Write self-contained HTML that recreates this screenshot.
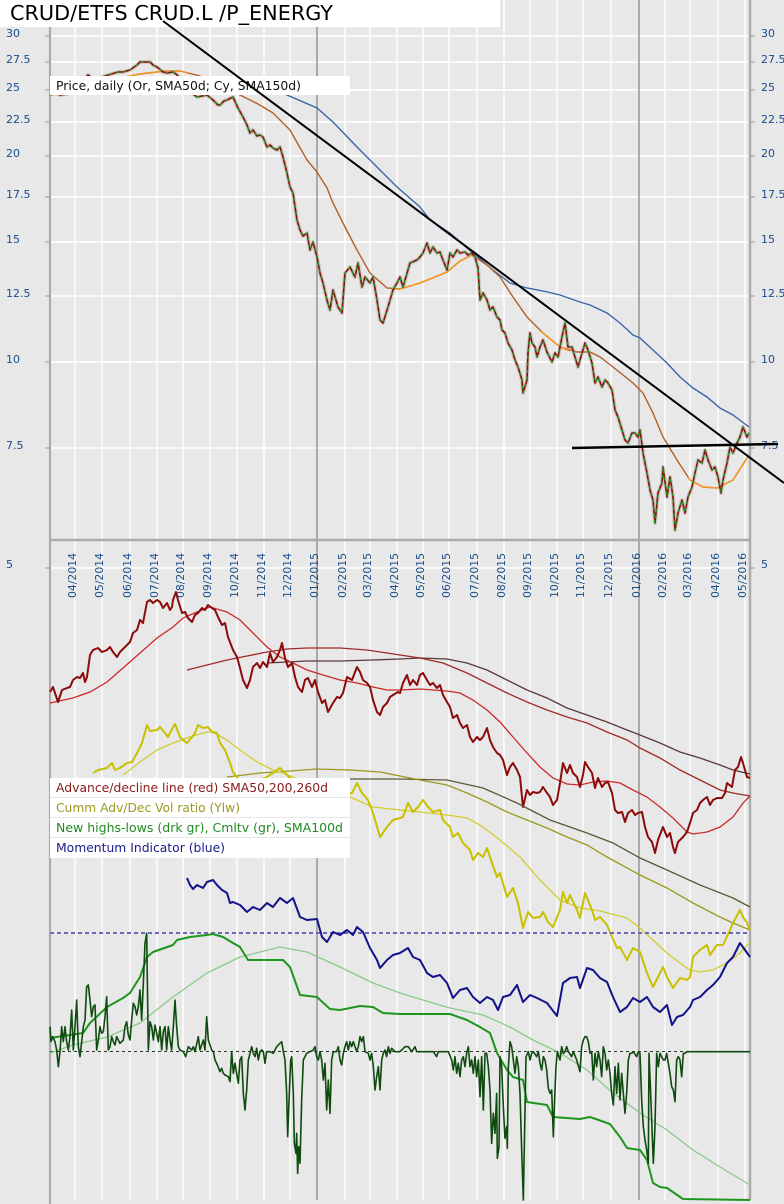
<!DOCTYPE html>
<html><head><meta charset="utf-8"><style>
html,body{margin:0;padding:0;background:#e8e8e8;}
svg{display:block;}
text{font-family:"DejaVu Sans","Liberation Sans",sans-serif;}
</style></head><body>
<svg width="784" height="1204" viewBox="0 0 784 1204" xmlns="http://www.w3.org/2000/svg">
<rect x="0" y="0" width="784" height="1204" fill="#e8e8e8"/>
<!-- horizontal grid -->
<g stroke="#ffffff" stroke-width="1.4">
<line x1="50" y1="36" x2="750" y2="36"/><line x1="50" y1="62" x2="750" y2="62"/><line x1="50" y1="90" x2="750" y2="90"/><line x1="50" y1="122" x2="750" y2="122"/><line x1="50" y1="156" x2="750" y2="156"/><line x1="50" y1="197" x2="750" y2="197"/><line x1="50" y1="242" x2="750" y2="242"/><line x1="50" y1="296" x2="750" y2="296"/><line x1="50" y1="362" x2="750" y2="362"/><line x1="50" y1="448" x2="750" y2="448"/><line x1="50" y1="568" x2="750" y2="568"/>
</g>
<!-- vertical month grid -->
<g stroke="#ffffff" stroke-width="1.4">
<line x1="75" y1="0" x2="75" y2="1200"/><line x1="102" y1="0" x2="102" y2="1200"/><line x1="130" y1="0" x2="130" y2="1200"/><line x1="157" y1="0" x2="157" y2="1200"/><line x1="183" y1="0" x2="183" y2="1200"/><line x1="210" y1="0" x2="210" y2="1200"/><line x1="237" y1="0" x2="237" y2="1200"/><line x1="264" y1="0" x2="264" y2="1200"/><line x1="290" y1="0" x2="290" y2="1200"/><line x1="345" y1="0" x2="345" y2="1200"/><line x1="370" y1="0" x2="370" y2="1200"/><line x1="397" y1="0" x2="397" y2="1200"/><line x1="423" y1="0" x2="423" y2="1200"/><line x1="449" y1="0" x2="449" y2="1200"/><line x1="477" y1="0" x2="477" y2="1200"/><line x1="504" y1="0" x2="504" y2="1200"/><line x1="530" y1="0" x2="530" y2="1200"/><line x1="557" y1="0" x2="557" y2="1200"/><line x1="583" y1="0" x2="583" y2="1200"/><line x1="611" y1="0" x2="611" y2="1200"/><line x1="665" y1="0" x2="665" y2="1200"/><line x1="690" y1="0" x2="690" y2="1200"/><line x1="718" y1="0" x2="718" y2="1200"/><line x1="745" y1="0" x2="745" y2="1200"/>
</g>
<g stroke="#9a9a9a" stroke-width="1.6">
<line x1="317" y1="0" x2="317" y2="1200"/><line x1="639" y1="0" x2="639" y2="1200"/>
</g>
<!-- axes -->
<line x1="50" y1="540" x2="750" y2="540" stroke="#ababab" stroke-width="2.5"/>
<line x1="50" y1="27" x2="50" y2="1204" stroke="#ababab" stroke-width="2.2"/>
<line x1="750" y1="0" x2="750" y2="1200" stroke="#ababab" stroke-width="2.5"/>
<g stroke="#999" stroke-width="1">
<line x1="45" y1="36" x2="50" y2="36"/><line x1="45" y1="62" x2="50" y2="62"/><line x1="45" y1="90" x2="50" y2="90"/><line x1="45" y1="122" x2="50" y2="122"/><line x1="45" y1="156" x2="50" y2="156"/><line x1="45" y1="197" x2="50" y2="197"/><line x1="45" y1="242" x2="50" y2="242"/><line x1="45" y1="296" x2="50" y2="296"/><line x1="45" y1="362" x2="50" y2="362"/><line x1="45" y1="448" x2="50" y2="448"/><line x1="45" y1="568" x2="50" y2="568"/>
<line x1="750" y1="36" x2="755" y2="36"/><line x1="750" y1="62" x2="755" y2="62"/><line x1="750" y1="90" x2="755" y2="90"/><line x1="750" y1="122" x2="755" y2="122"/><line x1="750" y1="156" x2="755" y2="156"/><line x1="750" y1="197" x2="755" y2="197"/><line x1="750" y1="242" x2="755" y2="242"/><line x1="750" y1="296" x2="755" y2="296"/><line x1="750" y1="362" x2="755" y2="362"/><line x1="750" y1="448" x2="755" y2="448"/><line x1="750" y1="568" x2="755" y2="568"/>
</g>
<!-- y labels -->
<g fill="#1a4c8c" font-size="11">
<text x="6" y="37">30</text><text x="6" y="63">27.5</text><text x="6" y="91">25</text><text x="6" y="123">22.5</text><text x="6" y="157">20</text><text x="6" y="198">17.5</text><text x="6" y="243">15</text><text x="6" y="297">12.5</text><text x="6" y="363">10</text><text x="6" y="449">7.5</text><text x="6" y="568">5</text>
<text x="761" y="37">30</text><text x="761" y="63">27.5</text><text x="761" y="91">25</text><text x="761" y="123">22.5</text><text x="761" y="157">20</text><text x="761" y="198">17.5</text><text x="761" y="243">15</text><text x="761" y="297">12.5</text><text x="761" y="363">10</text><text x="761" y="449">7.5</text><text x="761" y="568">5</text>
</g>
<!-- x labels -->
<g fill="#1a4c8c" font-size="11">
<text transform="translate(76,598) rotate(-90)" textLength="45" lengthAdjust="spacingAndGlyphs">04/2014</text>
<text transform="translate(103,598) rotate(-90)" textLength="45" lengthAdjust="spacingAndGlyphs">05/2014</text>
<text transform="translate(131,598) rotate(-90)" textLength="45" lengthAdjust="spacingAndGlyphs">06/2014</text>
<text transform="translate(158,598) rotate(-90)" textLength="45" lengthAdjust="spacingAndGlyphs">07/2014</text>
<text transform="translate(184,598) rotate(-90)" textLength="45" lengthAdjust="spacingAndGlyphs">08/2014</text>
<text transform="translate(211,598) rotate(-90)" textLength="45" lengthAdjust="spacingAndGlyphs">09/2014</text>
<text transform="translate(238,598) rotate(-90)" textLength="45" lengthAdjust="spacingAndGlyphs">10/2014</text>
<text transform="translate(265,598) rotate(-90)" textLength="45" lengthAdjust="spacingAndGlyphs">11/2014</text>
<text transform="translate(291,598) rotate(-90)" textLength="45" lengthAdjust="spacingAndGlyphs">12/2014</text>
<text transform="translate(318,598) rotate(-90)" textLength="45" lengthAdjust="spacingAndGlyphs">01/2015</text>
<text transform="translate(346,598) rotate(-90)" textLength="45" lengthAdjust="spacingAndGlyphs">02/2015</text>
<text transform="translate(371,598) rotate(-90)" textLength="45" lengthAdjust="spacingAndGlyphs">03/2015</text>
<text transform="translate(398,598) rotate(-90)" textLength="45" lengthAdjust="spacingAndGlyphs">04/2015</text>
<text transform="translate(424,598) rotate(-90)" textLength="45" lengthAdjust="spacingAndGlyphs">05/2015</text>
<text transform="translate(450,598) rotate(-90)" textLength="45" lengthAdjust="spacingAndGlyphs">06/2015</text>
<text transform="translate(478,598) rotate(-90)" textLength="45" lengthAdjust="spacingAndGlyphs">07/2015</text>
<text transform="translate(505,598) rotate(-90)" textLength="45" lengthAdjust="spacingAndGlyphs">08/2015</text>
<text transform="translate(531,598) rotate(-90)" textLength="45" lengthAdjust="spacingAndGlyphs">09/2015</text>
<text transform="translate(558,598) rotate(-90)" textLength="45" lengthAdjust="spacingAndGlyphs">10/2015</text>
<text transform="translate(584,598) rotate(-90)" textLength="45" lengthAdjust="spacingAndGlyphs">11/2015</text>
<text transform="translate(612,598) rotate(-90)" textLength="45" lengthAdjust="spacingAndGlyphs">12/2015</text>
<text transform="translate(640,598) rotate(-90)" textLength="45" lengthAdjust="spacingAndGlyphs">01/2016</text>
<text transform="translate(666,598) rotate(-90)" textLength="45" lengthAdjust="spacingAndGlyphs">02/2016</text>
<text transform="translate(691,598) rotate(-90)" textLength="45" lengthAdjust="spacingAndGlyphs">03/2016</text>
<text transform="translate(719,598) rotate(-90)" textLength="45" lengthAdjust="spacingAndGlyphs">04/2016</text>
<text transform="translate(746,598) rotate(-90)" textLength="45" lengthAdjust="spacingAndGlyphs">05/2016</text>
</g>

<!-- ===== PRICE PANEL ===== -->
<!-- SMA150 -->
<polyline fill="none" stroke="#3a66a8" stroke-width="1.4" points="240,82 260,87 287,95 317,108 333,122 357,147 373,163 397,187 420,207 430,220 450,233 467,248 493,270 510,283 527,288 543,291 560,295 580,302 590,305 607,313 620,323 633,335 640,338 653,350 667,363 680,377 693,388 707,397 720,408 733,415 749,427"/>
<!-- SMA50 brown full -->
<polyline fill="none" stroke="#b0602a" stroke-width="1.4" points="50,95 80,90 110,80 140,74 165,71 180,71 200,76 220,84 240,95 258,104 273,113 290,130 307,160 317,172 327,188 333,203 345,227 357,250 370,273 387,288 400,289 420,283 435,277 447,272 460,261 472,255 487,265 500,277 513,297 527,317 543,333 560,347 577,352 590,352 600,357 613,367 633,383 643,393 653,413 663,437 677,460 690,480 703,487 717,488 733,480 749,455"/>
<!-- SMA50 orange segments -->
<g fill="none" stroke="#f4961e" stroke-width="1.5">
<polyline points="50,95 80,90 110,80 140,74 165,71 180,71 188,73"/>
<polyline points="392,289 400,289 420,283 435,277 447,272 460,261 472,255"/>
<polyline points="540,331 543,333 560,347 570,351"/>
<polyline points="688,477 690,480 703,487 717,488 733,480 749,455"/>
</g>
<!-- price -->
<g fill="none" stroke-linejoin="round">
<polyline stroke="#b89a9a" stroke-opacity="0.45" stroke-width="4" points="50,95 55,93 60,95 67,94 75,88 88,75 95,80 105,76 118,72 123,72 130,70 137,65 140,62 147,62 150,62 153,65 157,67 163,72 167,73 173,72 176,74 182,80 188,88 193,94 197,97 202,96 207,95 213,100 218,105 220,105 224,101 227,100 233,97 238,108 243,117 247,125 250,133 253,130 257,136 260,135 263,137 267,147 270,145 273,148 277,150 280,147 283,157 287,173 290,187 293,193 297,220 300,230 303,236 307,233 310,250 313,242 317,257 320,273 323,283 327,300 330,310 333,290 338,307 342,313 345,273 350,267 355,277 358,263 362,287 365,277 370,283 373,277 377,300 380,320 383,323 388,307 393,290 397,283 400,277 403,287 410,263 417,260 420,257 423,253 427,243 430,253 433,247 437,253 440,252 443,260 447,270 450,253 453,257 457,250 460,253 465,252 468,255 472,253 475,257 478,268 480,300 483,293 487,300 490,310 493,307 497,317 500,320 502,330 505,333 508,343 512,350 515,360 518,367 522,380 523,393 527,380 528,353 530,333 532,343 535,347 537,357 540,347 543,340 547,352 552,362 555,353 558,357 562,337 565,323 568,347 572,347 575,357 578,367 582,353 585,343 588,350 592,363 595,383 598,377 602,387 605,380 608,383 612,390 615,410 618,417 622,430 625,440 628,443 632,433 635,433 638,437 640,430 643,453 647,473 650,490 653,500 655,523 658,493 662,483 663,467 667,497 670,477 673,497 675,530 678,513 682,500 685,513 688,497 692,487 695,473 698,460 702,463 705,450 708,460 712,470 715,467 718,477 721,493 723,480 727,463 730,447 733,453 737,443 740,437 743,427 747,437 749,433"/>
<polyline stroke="#8b0a0a" stroke-width="1.6" points="50,95 55,93 60,95 67,94 75,88 88,75 95,80 105,76 118,72 123,72 130,70 137,65 140,62 147,62 150,62 153,65 157,67 163,72 167,73 173,72 176,74 182,80 188,88 193,94 197,97 202,96 207,95 213,100 218,105 220,105 224,101 227,100 233,97 238,108 243,117 247,125 250,133 253,130 257,136 260,135 263,137 267,147 270,145 273,148 277,150 280,147 283,157 287,173 290,187 293,193 297,220 300,230 303,236 307,233 310,250 313,242 317,257 320,273 323,283 327,300 330,310 333,290 338,307 342,313 345,273 350,267 355,277 358,263 362,287 365,277 370,283 373,277 377,300 380,320 383,323 388,307 393,290 397,283 400,277 403,287 410,263 417,260 420,257 423,253 427,243 430,253 433,247 437,253 440,252 443,260 447,270 450,253 453,257 457,250 460,253 465,252 468,255 472,253 475,257 478,268 480,300 483,293 487,300 490,310 493,307 497,317 500,320 502,330 505,333 508,343 512,350 515,360 518,367 522,380 523,393 527,380 528,353 530,333 532,343 535,347 537,357 540,347 543,340 547,352 552,362 555,353 558,357 562,337 565,323 568,347 572,347 575,357 578,367 582,353 585,343 588,350 592,363 595,383 598,377 602,387 605,380 608,383 612,390 615,410 618,417 622,430 625,440 628,443 632,433 635,433 638,437 640,430 643,453 647,473 650,490 653,500 655,523 658,493 662,483 663,467 667,497 670,477 673,497 675,530 678,513 682,500 685,513 688,497 692,487 695,473 698,460 702,463 705,450 708,460 712,470 715,467 718,477 721,493 723,480 727,463 730,447 733,453 737,443 740,437 743,427 747,437 749,433"/>
<polyline stroke="#1e961e" stroke-width="1.6" stroke-dasharray="3 4" points="50,95 55,93 60,95 67,94 75,88 88,75 95,80 105,76 118,72 123,72 130,70 137,65 140,62 147,62 150,62 153,65 157,67 163,72 167,73 173,72 176,74 182,80 188,88 193,94 197,97 202,96 207,95 213,100 218,105 220,105 224,101 227,100 233,97 238,108 243,117 247,125 250,133 253,130 257,136 260,135 263,137 267,147 270,145 273,148 277,150 280,147 283,157 287,173 290,187 293,193 297,220 300,230 303,236 307,233 310,250 313,242 317,257 320,273 323,283 327,300 330,310 333,290 338,307 342,313 345,273 350,267 355,277 358,263 362,287 365,277 370,283 373,277 377,300 380,320 383,323 388,307 393,290 397,283 400,277 403,287 410,263 417,260 420,257 423,253 427,243 430,253 433,247 437,253 440,252 443,260 447,270 450,253 453,257 457,250 460,253 465,252 468,255 472,253 475,257 478,268 480,300 483,293 487,300 490,310 493,307 497,317 500,320 502,330 505,333 508,343 512,350 515,360 518,367 522,380 523,393 527,380 528,353 530,333 532,343 535,347 537,357 540,347 543,340 547,352 552,362 555,353 558,357 562,337 565,323 568,347 572,347 575,357 578,367 582,353 585,343 588,350 592,363 595,383 598,377 602,387 605,380 608,383 612,390 615,410 618,417 622,430 625,440 628,443 632,433 635,433 638,437 640,430 643,453 647,473 650,490 653,500 655,523 658,493 662,483 663,467 667,497 670,477 673,497 675,530 678,513 682,500 685,513 688,497 692,487 695,473 698,460 702,463 705,450 708,460 712,470 715,467 718,477 721,493 723,480 727,463 730,447 733,453 737,443 740,437 743,427 747,437 749,433"/>
</g>
<!-- price legend -->
<rect x="50" y="76" width="300" height="19" fill="#ffffff"/>
<text x="56" y="90" font-size="12.3" fill="#111" textLength="245" lengthAdjust="spacingAndGlyphs">Price, daily (Or, SMA50d; Cy, SMA150d)</text>

<!-- ===== LOWER PANEL ===== -->
<!-- A/D SMAs -->
<polyline fill="none" stroke="#5a3a3a" stroke-width="1.3" points="267,663 287,662 307,661 340,661 373,660 400,659 420,658 447,659 467,663 487,670 507,680 527,690 547,698 567,708 587,715 607,722 627,730 640,735 660,743 680,752 700,758 720,765 733,770 750,774"/>
<polyline fill="none" stroke="#a02a2a" stroke-width="1.3" points="187,670 207,665 227,660 247,656 267,652 287,649 307,648 340,648 367,650 387,653 400,655 420,658 443,663 467,673 487,683 507,693 527,702 547,710 567,717 587,723 607,732 627,740 640,748 660,758 680,770 700,780 720,790 733,793 750,796"/>
<polyline fill="none" stroke="#cc2a2a" stroke-width="1.3" points="50,703 73,698 90,692 107,682 123,668 140,653 157,638 173,627 183,618 197,612 210,607 227,612 240,620 253,633 267,647 280,657 293,663 307,670 323,675 340,680 357,683 373,687 387,690 400,690 420,689 447,691 460,693 473,700 487,710 500,722 513,737 527,753 540,767 553,778 567,784 580,785 593,782 607,781 620,783 633,790 647,797 660,807 673,818 687,832 693,834 707,832 720,827 733,817 743,803 750,796"/>
<!-- A/D line -->
<polyline fill="none" stroke="#8b0a0a" stroke-width="2" stroke-linejoin="round" points="50,692 53,687 58,702 62,690 67,688 70,687 73,680 77,677 80,678 83,673 85,682 87,677 90,655 93,650 98,648 102,652 107,650 110,647 113,652 117,657 120,652 127,645 130,642 133,633 137,630 140,620 143,623 147,602 150,600 153,603 157,600 160,602 163,608 167,603 170,610 172,607 173,600 176,592 178,600 182,613 185,612 188,618 192,622 195,615 198,613 202,608 205,610 208,605 212,608 215,610 218,617 222,625 225,623 228,637 233,650 237,657 240,668 243,680 247,688 250,680 253,667 257,663 260,668 263,662 267,667 270,653 273,662 277,657 280,650 282,643 285,658 288,667 292,663 295,677 298,687 302,692 305,680 308,678 312,687 315,680 318,692 322,703 325,700 328,712 333,703 337,697 340,698 343,693 347,677 352,680 357,667 360,672 363,680 367,683 370,687 373,700 377,712 380,715 383,707 387,703 390,697 393,695 398,692 400,693 403,683 407,675 410,685 413,680 417,685 420,675 423,673 427,680 430,685 433,683 437,688 440,685 443,695 447,702 450,707 453,718 457,715 460,723 463,728 467,725 470,737 473,742 477,737 480,740 483,737 487,728 490,740 493,747 497,753 500,755 503,760 507,775 510,767 513,763 517,770 520,777 523,807 527,790 530,795 533,792 537,793 540,792 543,787 547,793 550,797 553,805 557,800 560,783 563,763 567,773 570,765 573,773 577,777 580,787 583,775 585,762 588,767 592,773 595,788 598,778 602,787 605,783 608,782 612,793 615,810 618,813 622,812 625,822 628,813 632,810 635,815 638,813 642,812 645,827 648,837 652,842 655,853 658,840 663,827 667,837 670,833 673,847 675,853 678,842 683,837 687,832 690,823 693,813 697,810 700,803 703,800 707,797 710,805 713,800 717,798 722,798 725,793 727,783 732,787 735,770 738,767 741,757 743,763 747,777 750,778"/>
<!-- yellow SMAs -->
<polyline fill="none" stroke="#5a5a3a" stroke-width="1.3" points="270,779 300,779 350,779 400,779 447,780 483,788 517,803 550,820 587,833 613,843 640,858 667,870 700,885 733,898 750,907"/>
<polyline fill="none" stroke="#9a9a20" stroke-width="1.3" points="227,777 260,773 290,771 317,769 350,770 380,772 400,776 420,780 447,785 467,793 487,802 507,812 527,820 547,828 567,837 587,845 607,857 640,875 667,888 693,903 720,917 733,923 750,930"/>
<polyline fill="none" stroke="#d4cc30" stroke-width="1.3" points="123,775 140,762 157,750 173,743 190,737 207,732 213,732 227,740 240,750 257,762 273,770 283,773 300,780 330,790 350,797 373,807 400,810 420,812 447,815 467,818 480,825 500,840 520,857 540,880 560,900 580,908 600,911 627,918 640,928 653,940 667,953 680,963 690,970 700,972 713,970 727,963 740,953 750,942"/>
<!-- yellow main -->
<polyline fill="none" stroke="#c8c000" stroke-width="2" stroke-linejoin="round" points="93,773 98,770 107,768 112,763 115,770 120,768 127,763 132,762 137,753 142,743 147,725 150,731 157,730 160,727 165,733 168,737 173,727 175,724 180,737 183,740 187,743 192,737 195,733 198,725 203,728 208,727 212,732 217,733 220,743 225,750 230,763 233,772 237,777 245,785 255,780 265,778 270,775 280,768 290,778 300,785 320,790 340,795 352,793 357,783 362,793 368,800 373,813 380,837 387,827 393,820 400,818 403,817 408,803 413,812 418,807 423,800 428,807 433,812 440,810 443,820 450,827 453,837 458,833 463,843 470,850 473,860 478,853 483,857 487,848 492,863 497,877 500,873 507,897 513,888 518,903 523,928 528,912 533,918 540,917 543,912 548,922 553,927 560,910 563,892 567,903 570,895 577,910 580,918 585,893 592,910 595,920 600,917 607,925 612,937 617,948 620,947 627,960 633,948 640,952 647,973 653,987 660,973 663,967 667,977 673,988 680,978 687,980 690,977 693,957 700,950 707,945 710,955 717,945 723,945 730,930 733,923 740,910 743,917 747,923 750,930"/>
<!-- dashed reference lines -->
<line x1="50" y1="933" x2="750" y2="933" stroke="#6a6ab8" stroke-width="2" stroke-dasharray="4 3"/>
<line x1="50" y1="1051.5" x2="750" y2="1051.5" stroke="#2a3a2a" stroke-width="1" stroke-dasharray="3 3"/>
<!-- momentum -->
<polyline fill="none" stroke="#12128a" stroke-width="2" stroke-linejoin="round" points="187,878 190,885 193,889 197,885 203,888 207,882 213,880 217,885 222,890 227,893 230,903 233,902 240,905 247,912 253,907 260,910 267,903 273,907 280,898 287,903 293,898 300,917 307,920 317,919 322,937 327,942 333,932 340,935 347,930 353,935 357,927 363,932 370,948 377,960 380,968 387,960 393,955 400,953 408,948 413,957 420,960 427,973 433,977 440,975 447,983 453,998 460,990 467,988 473,997 480,1003 487,997 493,1000 498,1010 503,997 510,995 517,985 523,1002 530,995 537,998 547,1003 557,1016 563,983 570,978 577,977 580,988 587,968 593,970 600,978 607,982 613,997 620,1012 627,1007 633,998 640,1002 647,997 653,1007 660,1012 667,1005 672,1025 677,1017 683,1015 690,1007 693,1000 700,997 707,990 713,985 720,977 727,963 733,957 740,943 745,950 750,957"/>
<!-- SMA100 light green -->
<polyline fill="none" stroke="#8cc88c" stroke-width="1.3" points="50,1053 73,1045 107,1037 140,1023 173,997 207,973 240,957 280,947 307,952 340,967 373,983 400,993 433,1003 450,1008 483,1015 510,1027 533,1040 560,1053 587,1070 613,1093 640,1113 667,1130 693,1150 720,1167 750,1185"/>
<!-- cumulative green -->
<polyline fill="none" stroke="#1e961e" stroke-width="2" stroke-linejoin="round" points="50,1038 83,1033 90,1023 107,1007 123,998 130,993 140,977 147,957 153,952 173,945 177,940 190,937 207,935 213,934 223,937 233,943 240,947 248,960 257,960 283,960 290,967 300,995 317,997 330,1009 340,1010 360,1006 373,1007 383,1013 400,1014 450,1014 467,1020 480,1027 490,1033 497,1053 507,1070 513,1077 523,1080 527,1102 547,1105 553,1117 580,1119 590,1117 610,1124 620,1137 627,1148 640,1150 647,1160 653,1183 660,1187 667,1188 683,1199 750,1200"/>
<!-- new highs-lows spikes -->
<g fill="none" stroke="#0f4a0f" stroke-width="1.6" stroke-linejoin="round">
<polyline vector-effect="non-scaling-stroke" transform="translate(40,860) scale(0.33333)" points="30,500 33,545 38,530 45,545 50,570 55,620 60,575 65,500 70,545 75,500 80,545 85,570 90,530 95,450 100,570 105,500 110,420 115,560 120,590 125,545 130,500 135,480 140,380 145,375 150,420 155,470 160,440 165,435 170,570 175,540 180,500 185,520 190,515 195,470 200,410 205,570 210,560 215,530 220,545 225,555 230,530 240,550 250,540 255,500 260,485 265,525 270,540 275,480 280,430 285,440 290,465 295,440 300,390 305,480 310,370 315,250 320,220 325,570 330,485 335,500 340,540 345,495 350,520 355,545 360,500 365,570 370,515 375,500 380,570 385,500 390,540 395,570 400,500 405,420 410,500 415,560 420,570 430,575 437,590 445,560 455,570 460,560 465,575 475,530 480,570 490,540 495,570 500,470 505,540 510,555 515,570 520,575 525,600 530,610 540,635 545,625 550,640 555,645 565,650 570,665 575,575 580,640 585,610 590,640 595,670 600,600 605,590 610,700 615,750 620,690 625,600 630,580 635,560 640,580 645,590 650,565 655,600 660,575 665,570 670,575 675,610 680,575 690,575 700,580 710,560 720,550 725,545 730,575 735,600 740,700 743,830 748,700 752,600 755,590 760,700 763,850 768,880 770,820 773,940 776,860 780,910 785,720 790,600 800,580 810,575 820,570 825,560 830,590 835,600 840,575 845,600 850,660 855,610 860,750 865,660 870,760 875,600 880,575 890,575 895,560 900,600 905,615 910,580 915,560 920,545 925,570 930,545 935,560 940,545 950,575 955,560 960,530 965,545 970,530 975,575 985,580 990,600 995,580 1000,620 1005,690 1010,650 1015,620 1020,690 1025,600 1030,580 1035,570 1040,590 1045,560 1050,580 1055,565 1065,575 1080,575"/>
<polyline vector-effect="non-scaling-stroke" transform="translate(400,860) scale(0.33333)" points="0,575 15,560 25,560 35,575 45,560 50,575 100,575 110,590 115,575 145,575 155,600 160,630 165,590 170,640 175,610 180,650 185,600 190,590 195,620 200,580 205,560 210,620 215,600 220,640 225,590 230,650 235,600 240,710 245,590 250,750 255,580 260,580 265,620 270,690 275,850 280,760 285,820 290,700 292,895 297,860 300,590 305,620 310,740 315,835 320,800 322,865 325,620 330,545 335,560 340,600 345,640 350,590 355,620 360,700 365,870 370,1020 375,750 378,590 385,575 390,600 395,580 400,575 410,590 415,575 420,610 425,630 430,590 435,600 440,630 445,685 450,700 455,690 460,830 463,740 468,620 472,575 480,600 485,560 490,580 495,575 500,560 505,575 515,590 520,575 530,600 540,635 545,560 550,540 555,530 560,530 565,545 570,580 575,575 580,660 585,580 590,620 595,575 600,600 605,650 610,560 615,580 620,630 625,600 630,640 635,700 640,735 645,620 650,700 655,610 660,720 665,640 670,700 675,760 680,700 685,600 690,580 695,580 700,575 710,590 715,575 720,580 725,720 730,800 735,840 740,870 745,910 747,580 752,700 755,780 760,910 765,800 770,580 775,620 780,580 790,600 795,600 800,580 805,610 810,640 815,680 820,690 825,725 830,600 835,590 840,600 845,650 850,580 855,580 860,575 1050,575"/>
</g>
<!-- lower legend -->
<rect x="50" y="778" width="300" height="80" fill="#ffffff"/>
<g stroke="#e6e6e6" stroke-width="1">
<line x1="50" y1="797.5" x2="350" y2="797.5"/><line x1="50" y1="817.5" x2="350" y2="817.5"/><line x1="50" y1="837.5" x2="350" y2="837.5"/>
</g>
<g font-size="12.3">
<text x="56" y="792" fill="#8b1a1a" textLength="272" lengthAdjust="spacingAndGlyphs">Advance/decline line (red) SMA50,200,260d</text>
<text x="56" y="812" fill="#9a9a20" textLength="184" lengthAdjust="spacingAndGlyphs">Cumm Adv/Dec Vol ratio (Ylw)</text>
<text x="56" y="832" fill="#228a22" textLength="287" lengthAdjust="spacingAndGlyphs">New highs-lows (drk gr), Cmltv (gr), SMA100d</text>
<text x="56" y="852" fill="#1a1a8a" textLength="169" lengthAdjust="spacingAndGlyphs">Momentum Indicator (blue)</text>
</g>

<!-- title -->
<rect x="0" y="0" width="500" height="27" fill="#ffffff"/>
<text x="10" y="20" font-size="20.5" fill="#000" textLength="323" lengthAdjust="spacingAndGlyphs">CRUD/ETFS CRUD.L /P_ENERGY</text>
<!-- trend lines -->
<line x1="163" y1="21" x2="784" y2="483" stroke="#000" stroke-width="2"/>
<line x1="572" y1="448" x2="778" y2="444" stroke="#000" stroke-width="2.5"/>
</svg>
</body></html>
